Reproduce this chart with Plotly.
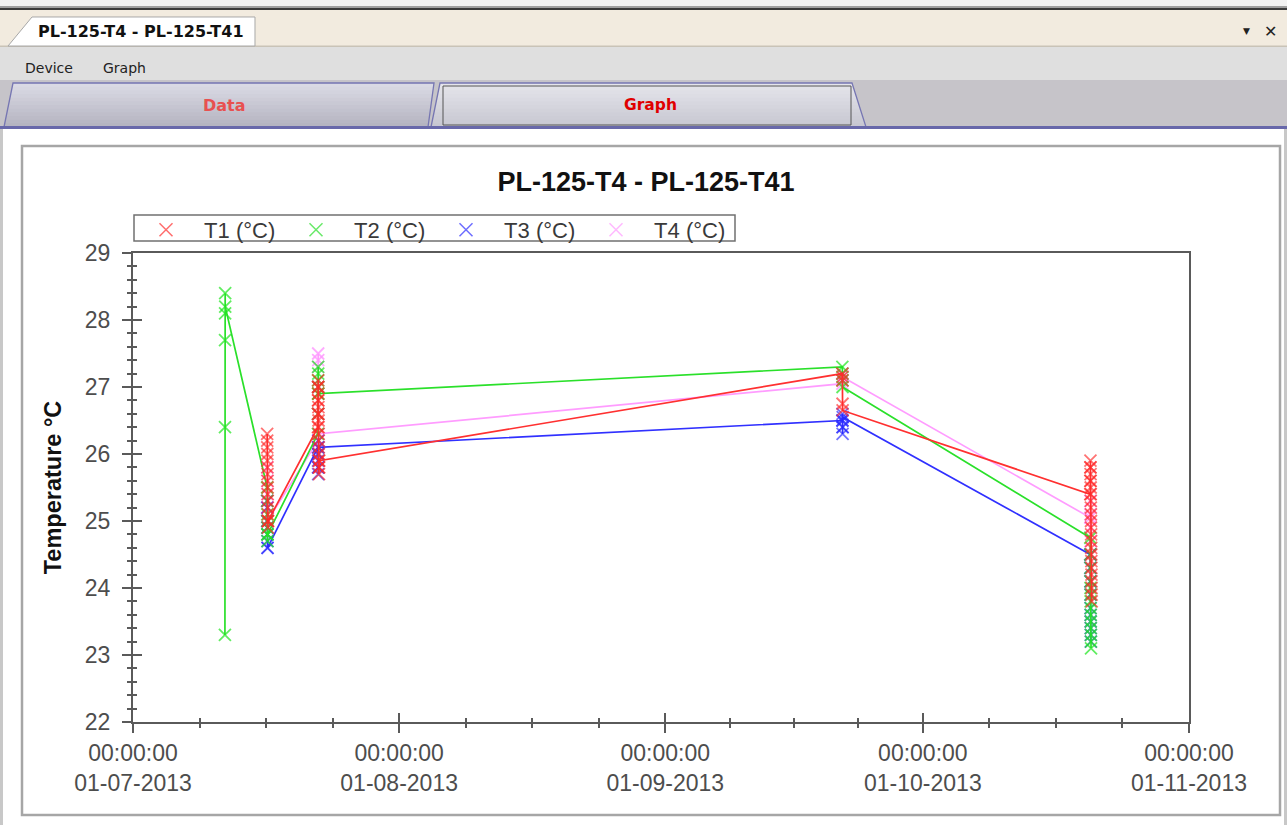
import pandas as pd
import plotly.graph_objects as go

# ---------------- data ----------------
SESSION_START = ["2013-07-11 17:00", "2013-07-16 15:00", "2013-07-22 13:00",
                 "2013-09-21 15:00", "2013-10-20 12:00"]
LOG_INTERVAL_MIN = 10

SERIES_NAMES = ["T1 (°C)", "T2 (°C)", "T3 (°C)", "T4 (°C)"]
SERIES_COLORS = ["#FF3030", "#2AE02A", "#3030FF", "#FF9CFF"]
MARKER_COLORS = ["rgba(255,40,40,0.65)", "rgba(30,230,30,0.7)",
                 "rgba(40,40,255,0.65)", "rgba(255,150,255,0.8)"]

# T1
T1_S2 = [26.3, 26.2, 26.1, 26.0, 25.9, 25.8, 25.7, 25.6, 25.5, 25.4, 25.3, 25.2, 25.1, 25.0, 24.9, 25.0]
T1_S3 = [26.4, 26.6, 26.8, 27.0, 27.1, 27.0, 26.9, 26.8, 26.7, 26.6, 26.5, 26.4, 26.3, 26.2, 26.1,
         26.0, 25.9, 25.8, 25.7, 25.8, 25.9]
T1_S4 = [27.2, 27.1, 27.15, 26.75, 26.65]
T1_S5 = [25.4, 25.6, 25.8, 25.9, 25.8, 25.7, 25.6, 25.5, 25.4, 25.3, 25.2, 25.1, 25.0, 24.9, 24.8,
         24.7, 24.6, 24.5, 24.4, 24.3, 24.2, 24.1, 24.0, 23.9, 23.8]
# T2
T2_S1 = [23.3, 26.4, 27.7, 28.1, 28.4, 28.2]
T2_S2 = [25.5, 25.3, 25.1, 25.0, 24.9, 24.8, 24.7, 24.8]
T2_S3 = [26.3, 26.6, 26.9, 27.1, 27.3, 27.2, 27.0, 26.9]
T2_S4 = [27.3, 27.2, 27.1, 27.0]
T2_S5 = [24.75, 24.5, 24.3, 24.1, 24.0, 23.9, 23.8, 23.7, 23.6, 23.5, 23.4, 23.3, 23.2, 23.1]
# T3
T3_S2 = [25.3, 25.2, 25.0, 24.9, 24.8, 24.7, 24.6, 24.6]
T3_S3 = [26.1, 26.0, 25.9, 25.8, 25.7, 25.8, 26.0, 26.2, 26.1]
T3_S4 = [26.5, 26.6, 26.5, 26.4, 26.3, 26.4, 26.55]
T3_S5 = [24.5, 24.3, 24.1, 23.9, 23.7, 23.6, 23.5, 23.4, 23.3, 23.2]
# T4
T4_S2 = [25.8, 25.6, 25.4, 25.2, 25.0]
T4_S3 = [26.2, 26.6, 27.0, 27.3, 27.5, 27.4, 27.0, 26.6, 26.3]
T4_S4 = [27.05, 27.1, 27.2, 27.15]
T4_S5 = [25.05, 25.3, 25.1, 24.9, 24.7, 24.5, 24.3, 24.1]

SERIES_SESSIONS = [
    [None, T1_S2, T1_S3, T1_S4, T1_S5],
    [T2_S1, T2_S2, T2_S3, T2_S4, T2_S5],
    [None, T3_S2, T3_S3, T3_S4, T3_S5],
    [None, T4_S2, T4_S3, T4_S4, T4_S5],
]

X_TICKS = ["2013-07-01", "2013-08-01", "2013-09-01", "2013-10-01", "2013-11-01"]
X_TICKTEXT = ["00:00:00<br>01-07-2013", "00:00:00<br>01-08-2013", "00:00:00<br>01-09-2013",
              "00:00:00<br>01-10-2013", "00:00:00<br>01-11-2013"]
X_MINOR = ["2013-07-08 18:00", "2013-07-16 12:00", "2013-07-24 06:00",
           "2013-08-08 18:00", "2013-08-16 12:00", "2013-08-24 06:00",
           "2013-09-08 12:00", "2013-09-16 00:00", "2013-09-23 12:00",
           "2013-10-08 18:00", "2013-10-16 12:00", "2013-10-24 06:00"]
Y_RANGE = [22, 29]

TITLE = "PL-125-T4 - PL-125-T41"

# ---------------- geometry ----------------
W, H = 1287, 825
ML, MR, MT, MB = 133, 98, 253, 103
PW, PH = W - ML - MR, H - MT - MB


def px(x):
    return (x - ML) / PW


def py(y):
    return (H - MB - y) / PH


fig = go.Figure()

# order: draw T4, T3, T2, T1 (T1 on top)
for idx in [3, 2, 1, 0]:
    xs, ys = [], []
    for s, vals in enumerate(SERIES_SESSIONS[idx]):
        if vals is None:
            continue
        t0 = pd.Timestamp(SESSION_START[s])
        for i, v in enumerate(vals):
            xs.append(t0 + pd.Timedelta(minutes=LOG_INTERVAL_MIN * i))
            ys.append(v)
    fig.add_trace(go.Scatter(
        x=xs, y=ys, mode="lines+markers", showlegend=False,
        line=dict(color=SERIES_COLORS[idx], width=1.7),
        marker=dict(symbol="x-thin", size=12, color=MARKER_COLORS[idx],
                    line=dict(width=1.8, color=MARKER_COLORS[idx])),
        name=SERIES_NAMES[idx]))

# legend-only entries
for idx in range(4):
    fig.add_trace(go.Scatter(
        x=[None], y=[None], mode="markers", name="\u00a0" + SERIES_NAMES[idx],
        marker=dict(symbol="x-thin", size=13, color=SERIES_COLORS[idx],
                    opacity=0.7,
                    line=dict(width=1.5, color=SERIES_COLORS[idx]))))

# helper axes to make ticks cross the axis line
fig.add_trace(go.Scatter(x=[None], y=[None], xaxis="x2", yaxis="y2",
                         showlegend=False, hoverinfo="skip"))

AXCOL = "#5a5a5a"
TICKFONT = dict(family="Liberation Sans, Arial", size=23, color="#4d4d4d")

fig.update_layout(
    width=W, height=H, autosize=False,
    margin=dict(l=ML, r=MR, t=MT, b=MB, pad=0),
    paper_bgcolor="white", plot_bgcolor="white",
    font=dict(family="Liberation Sans, Arial", color="#333"),
    title=dict(text="<b>" + TITLE + "</b>", xref="container", x=0.502,
               yref="container", y=1 - 182 / H, xanchor="center", yanchor="middle",
               font=dict(size=27, color="#111", family="Liberation Sans, Arial")),
    xaxis=dict(type="date", range=[X_TICKS[0], X_TICKS[-1]],
               tickmode="array", tickvals=X_TICKS, ticktext=X_TICKTEXT,
               ticks="outside", ticklen=9, tickwidth=1.5, tickcolor=AXCOL,
               minor=dict(tickmode="array", tickvals=X_MINOR, ticks="outside",
                          ticklen=4, tickwidth=1.5, tickcolor=AXCOL),
               showline=True, linecolor=AXCOL, linewidth=2, mirror=True,
               showgrid=False, zeroline=False, tickfont=TICKFONT,
               ticklabelstandoff=0, fixedrange=True),
    xaxis2=dict(type="date", range=[X_TICKS[0], X_TICKS[-1]], overlaying="x",
                anchor="y2", side="bottom",
                tickmode="array", tickvals=X_TICKS,
                ticks="inside", ticklen=9, tickwidth=1.5, tickcolor=AXCOL,
                minor=dict(tickmode="array", tickvals=X_MINOR, ticks="inside",
                           ticklen=4, tickwidth=1.5, tickcolor=AXCOL),
                showticklabels=False, showline=False, showgrid=False, zeroline=False),
    yaxis=dict(range=Y_RANGE, tickmode="linear", tick0=22, dtick=1,
               ticks="outside", ticklen=9, tickwidth=1.5, tickcolor=AXCOL,
               minor=dict(dtick=0.2, ticks="outside", ticklen=4, tickwidth=1.5,
                          tickcolor=AXCOL),
               showline=True, linecolor=AXCOL, linewidth=2, mirror=True,
               showgrid=False, zeroline=False, tickfont=TICKFONT,
               ticklabelstandoff=7,
               title=dict(text="<b>Temperature °C</b>", standoff=17,
                          font=dict(size=23.5, color="#111",
                                    family="Liberation Sans, Arial"))),
    yaxis2=dict(range=Y_RANGE, overlaying="y", anchor="x2", side="left",
                tickmode="linear", tick0=22, dtick=1,
                ticks="inside", ticklen=9, tickwidth=1.5, tickcolor=AXCOL,
                minor=dict(dtick=0.2, ticks="inside", ticklen=4, tickwidth=1.5,
                           tickcolor=AXCOL),
                showticklabels=False, showline=False, showgrid=False, zeroline=False),
    legend=dict(orientation="h", x=px(134), xanchor="left", y=py(209), yanchor="top",
                bgcolor="rgba(0,0,0,0)", borderwidth=0,
                font=dict(size=22, color="#3a3a3a", family="Liberation Sans, Arial"),
                itemwidth=54, entrywidth=81, entrywidthmode="pixels",
                traceorder="normal"),
)

# ---------------- application chrome ----------------
shapes = []


def rect(x0, y0, x1, y1, fill, line=None, lw=0, layer="below"):
    shapes.append(dict(type="rect", xref="paper", yref="paper",
                       x0=px(x0), x1=px(x1), y0=py(y0), y1=py(y1),
                       fillcolor=fill, line=dict(color=line or fill, width=lw),
                       layer=layer))


def path(points, fill=None, line=None, lw=0, layer="below"):
    d = "M " + " L ".join(f"{px(a):.5f},{py(b):.5f}" for a, b in points) + " Z"
    sh = dict(type="path", xref="paper", yref="paper", path=d, layer=layer,
              line=dict(color=line if line else "rgba(0,0,0,0)", width=lw))
    if fill:
        sh["fillcolor"] = fill
    shapes.append(sh)


def mix(c1, c2, t):
    a = [int(c1[i:i + 2], 16) for i in (1, 3, 5)]
    b = [int(c2[i:i + 2], 16) for i in (1, 3, 5)]
    return "#" + "".join(f"{int(round(a[k] + (b[k] - a[k]) * t)):02x}" for k in range(3))


def tab(xl_bot, xl_top, xr_top, xr_bot, y_top, y_bot, c_top, c_bot, border, n=12):
    def lx(y):
        return xl_top + (xl_bot - xl_top) * (y - y_top) / (y_bot - y_top)

    def rx(y):
        return xr_top + (xr_bot - xr_top) * (y - y_top) / (y_bot - y_top)
    for i in range(n):
        ya = y_top + (y_bot - y_top) * i / n
        yb = y_top + (y_bot - y_top) * (i + 1) / n + 0.6
        path([(lx(ya), ya), (rx(ya), ya), (rx(yb), yb), (lx(yb), yb)],
             fill=mix(c_top, c_bot, (i + 0.5) / n))
    path([(xl_bot, y_bot), (xl_top, y_top), (xr_top, y_top), (xr_bot, y_bot)],
         line=border, lw=1.3)


# top strip
rect(0, 0, W, 6, "#F2F2F2")
rect(0, 6, W, 8, "#A0A0A0")
rect(0, 8, W, 10, "#3A3A3A")
# document tab bar
rect(0, 10, W, 46, "#F2EBDF")
rect(0, 45.5, W, 47, "#C9C3B7")
path([(8, 46), (32, 17), (255, 17), (255, 46)], fill="white", line="#A8A8A8", lw=1)
# menu bar
rect(0, 47, W, 80, "#DFDFDF")
# tab strip
rect(0, 80, W, 129, "#C6C4C9")
tab(4, 13, 434, 428, 83, 127, "#DCDCE6", "#B3B2BF", "#7676B2")
tab(431, 440, 852, 866, 83, 127, "#E6E6EC", "#C6C6D0", "#7676B2")
rect(443, 86, 851, 125, "rgba(0,0,0,0)", line="#555555", lw=1)
rect(0, 126, W, 129, "#6868AA")
# window side borders
rect(0, 129, 3, H, "#C8C8C8")
rect(W - 3, 129, W, H, "#C8C8C8")
# chart frame
rect(22, 146, 1280, 815, "rgba(0,0,0,0)", line="#A6A6A6", lw=2.5)
# legend box
rect(134, 215, 735, 241, "white", line="#707070", lw=1.5, layer="above")

fig.update_layout(shapes=shapes)

ann = []


def text(x, y, s, size, color, bold=False, family="DejaVu Sans"):
    ann.append(dict(xref="paper", yref="paper", x=px(x), y=py(y), text=("<b>%s</b>" % s) if bold else s,
                    showarrow=False, xanchor="center", yanchor="middle",
                    font=dict(size=size, color=color, family=family)))


text(141, 31, TITLE, 16, "#111", bold=True)
text(1246, 31, "▼", 9, "#222")
text(1270, 31, "✕", 16, "#222", bold=True)
text(49, 68, "Device", 14, "#222")
text(124, 68, "Graph", 14, "#222")
text(224, 105, "Data", 16, "#E85050", bold=True)
text(650, 105, "Graph", 15.5, "#E00000", bold=True)

fig.update_layout(annotations=ann)

fig.write_html("out.html", config={"displayModeBar": False},
               post_script="document.body.style.margin='0px';document.body.style.overflow='hidden';")
